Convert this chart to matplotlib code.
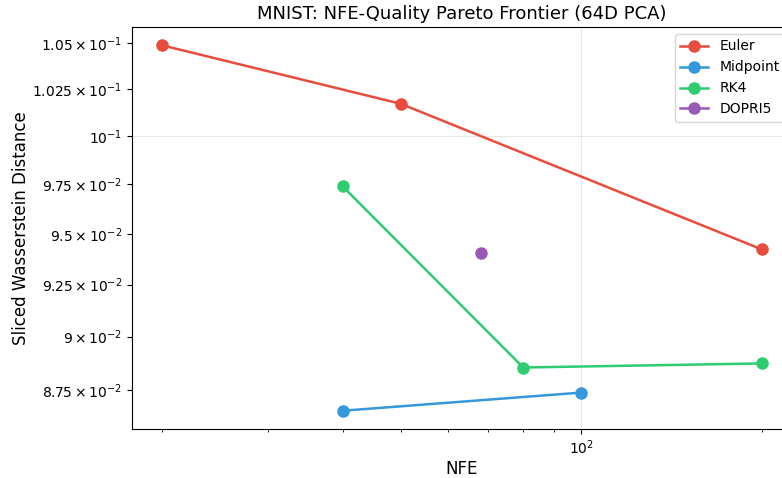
import matplotlib
matplotlib.use('Agg')
from matplotlib import pyplot as plt
from matplotlib.ticker import FixedLocator, FuncFormatter, NullFormatter
import numpy as np

euler_nfe = [20, 50, 200]
euler_swd = [0.1049, 0.10172, 0.09422]
midpoint_nfe = [40, 100]
midpoint_swd = [0.08656, 0.08739]
rk4_nfe = [40, 80, 200]
rk4_swd = [0.09740, 0.08855, 0.08874]
dopri5_nfe = [68]
dopri5_swd = [0.09407]

major_yticks = [0.1]
minor_yticks = [0.105, 0.1025, 0.0975, 0.095, 0.0925, 0.09, 0.0875]


def sci_label(v, pos=None):
    exp = int(np.floor(np.log10(v) + 1e-9))
    coeff = v / 10 ** exp
    if abs(coeff - round(coeff)) < 1e-6 and round(coeff) == 1:
        return r'$\mathdefault{10^{%d}}$' % exp
    c = ('%.3f' % coeff).rstrip('0').rstrip('.')
    return r'$\mathdefault{%s\times10^{%d}}$' % (c, exp)


fig = plt.figure(figsize=(7.82, 4.78), dpi=100)
ax = fig.add_axes([132 / 782, 49 / 478, 660 / 782, 402 / 478])

series = [
    ('Euler', euler_nfe, euler_swd, '#e74c3c'),
    ('Midpoint', midpoint_nfe, midpoint_swd, '#3498db'),
    ('RK4', rk4_nfe, rk4_swd, '#2ecc71'),
    ('DOPRI5', dopri5_nfe, dopri5_swd, '#9b59b6'),
]
for name, x, y, c in series:
    ax.plot(x, y, '-o', color=c, label=name, linewidth=1.8, markersize=8)

ax.set_xscale('log')
ax.set_yscale('log')
ax.yaxis.set_major_locator(FixedLocator(major_yticks))
ax.yaxis.set_minor_locator(FixedLocator(minor_yticks))
ax.yaxis.set_major_formatter(FuncFormatter(sci_label))
ax.yaxis.set_minor_formatter(FuncFormatter(sci_label))
ax.tick_params(axis='y', which='minor', length=3.5, width=0.8)
ax.tick_params(axis='both', which='both', labelsize=10)
ax.xaxis.set_minor_formatter(NullFormatter())

ax.set_xlabel('NFE', fontsize=12, labelpad=2)
ax.set_ylabel('Sliced Wasserstein Distance', fontsize=12, labelpad=2)
ax.set_title('MNIST: NFE-Quality Pareto Frontier (64D PCA)', fontsize=13)
ax.grid(True, alpha=0.3)
ax.legend(fontsize=10, loc='upper right')

fig.savefig('out.png', dpi=100)
